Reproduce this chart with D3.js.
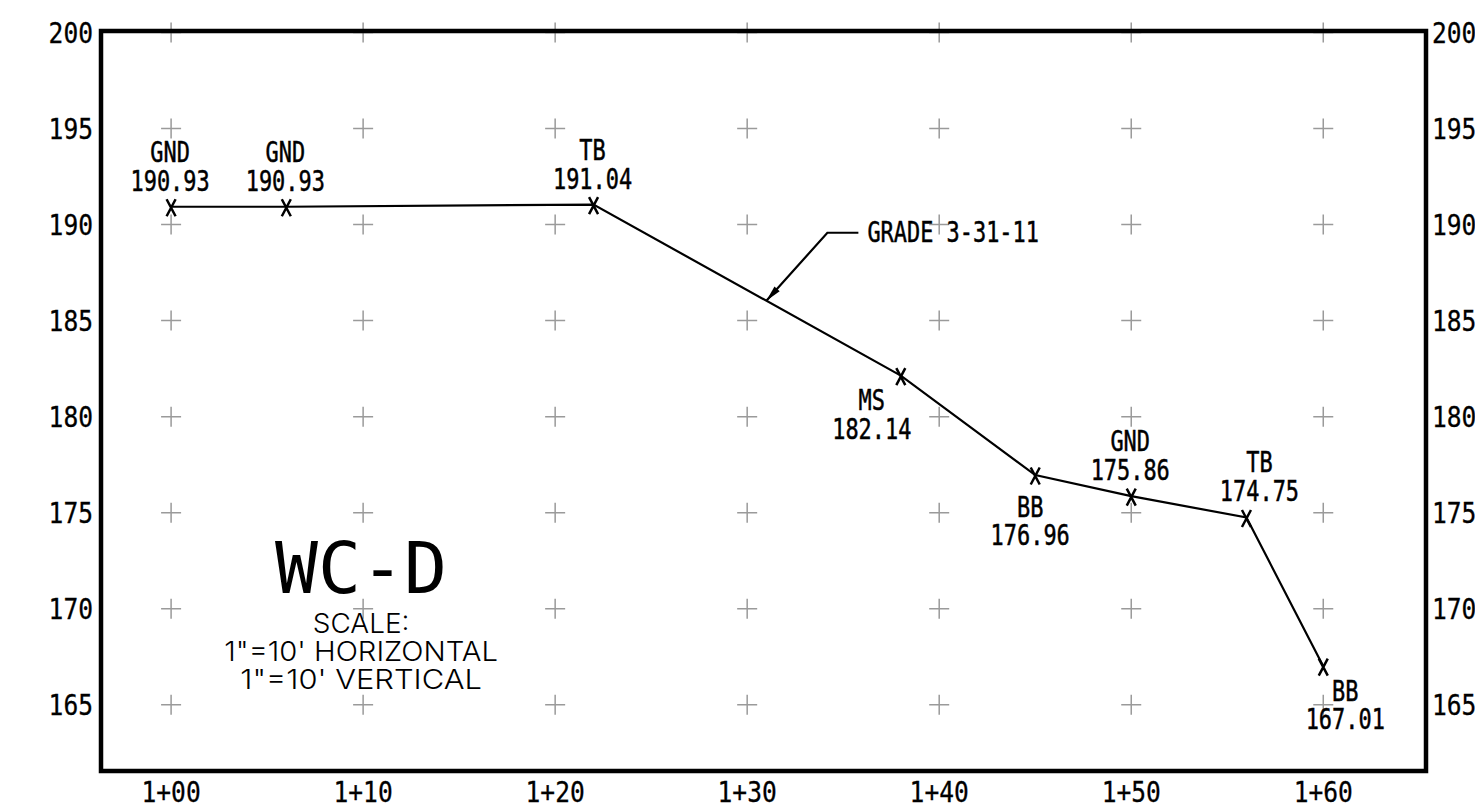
<!DOCTYPE html>
<html>
<head>
<meta charset="utf-8">
<title>WC-D Profile</title>
<script src="https://cdn.jsdelivr.net/npm/d3@7/dist/d3.min.js"></script>
<style>
  html, body { margin: 0; padding: 0; background: #fff; }
  svg { display: block; }
</style>
</head>
<body>
<svg id="profile" width="1475" height="808"></svg>
<script>
// Surveyed profile shots: station offset (ft past 1+00 origin), elevation, point code
const stations   = [100, 106, 122, 138, 145, 150, 156, 160];
const elevations = [190.93, 190.93, 191.04, 182.14, 176.96, 175.86, 174.75, 167.01];
const pointCodes = ["GND", "GND", "TB", "MS", "BB", "GND", "TB", "BB"];
const labelSides = ["above", "above", "above", "below-left", "below", "above", "above-right", "below-right"];

// Grid / axis ticks
const stationTicks      = [100, 110, 120, 130, 140, 150, 160];
const stationTickLabels = ["1+00", "1+10", "1+20", "1+30", "1+40", "1+50", "1+60"];
const elevationTicks    = [165, 170, 175, 180, 185, 190, 195, 200];

// Annotations
const gradeNote     = "GRADE 3-31-11";
const gradeStation  = 131;
const sheetTitle    = "WC-D";
const scaleNotes    = ["SCALE:", "1\"=10' HORIZONTAL", "1\"=10' VERTICAL"];

const svg = d3.select("#profile");

// Equal 1"=10' scaling both ways
const x = d3.scaleLinear().domain([96.35, 165.35]).range([101, 1426]);
const y = d3.scaleLinear().domain([161.55, 200.08]).range([771, 31]);

const MONO = "'DejaVu Sans Mono', 'Liberation Mono', monospace";
const STYLE = {
  label: { family: MONO, size: 29, charW: 13.2, weight: 400, stroke: 0.5 },
  tick:  { family: MONO, size: 27.5, charW: 14.8, weight: 400, stroke: 0.3 },
  title: { family: MONO, size: 71, charW: 43, weight: 400, stroke: 0 },
  note:  { family: "Inter, 'Liberation Sans', sans-serif", size: 27.5, charW: 16.1, weight: 300, stroke: 0 }
};

function addText(g, str, px, py, anchor, st) {
  const t = g.append("text")
    .attr("x", px).attr("y", py)
    .attr("text-anchor", anchor)
    .attr("font-family", st.family)
    .attr("font-size", st.size)
    .attr("font-weight", st.weight)
    .attr("fill", "#000")
    .attr("textLength", str.length * st.charW)
    .attr("lengthAdjust", "spacingAndGlyphs")
    .text(str);
  if (st.stroke) t.attr("stroke", "#000").attr("stroke-width", st.stroke);
  return t;
}

// Grid crosses at every station / elevation intersection
const grid = svg.append("g").attr("stroke", "#9a9a9a").attr("stroke-width", 1.5).attr("fill", "none");
const gridPts = d3.cross(stationTicks, elevationTicks);
grid.selectAll("path").data(gridPts).join("path")
  .attr("transform", d => `translate(${x(d[0])},${y(d[1])})`)
  .attr("d", "M-10,0H10M0,-10V10");

// Frame
const [x0, x1] = x.domain(), [y0, y1] = y.domain();
svg.append("rect")
  .attr("x", x(x0)).attr("y", y(y1))
  .attr("width", x(x1) - x(x0)).attr("height", y(y0) - y(y1))
  .attr("fill", "none").attr("stroke", "#000").attr("stroke-width", 4.5);

// Elevation labels on both sides
const axes = svg.append("g");
elevationTicks.forEach(v => {
  addText(axes, String(v), x(x0) - 8, y(v) + 10, "end", STYLE.tick);
  addText(axes, String(v), x(x1) + 6, y(v) + 10, "start", STYLE.tick);
});
// Station labels
stationTicks.forEach((s, i) => {
  addText(axes, stationTickLabels[i], x(s), 802, "middle", STYLE.tick);
});

// Profile line
const pts = stations.map((s, i) => [s, elevations[i]]);
svg.append("path")
  .datum(pts)
  .attr("fill", "none").attr("stroke", "#000").attr("stroke-width", 2.2)
  .attr("d", d3.line().x(d => x(d[0])).y(d => y(d[1])));

// Shot markers
svg.append("g").attr("stroke", "#000").attr("stroke-width", 2.5).attr("fill", "none")
  .selectAll("path").data(pts).join("path")
  .attr("transform", d => `translate(${x(d[0])},${y(d[1]) + 1})`)
  .attr("d", "M-4.5,-8.5L4.5,8.5M4.5,-8.5L-4.5,8.5");

// Shot labels
const placement = {
  "above":       { dx: -1, code: -45, val: -16 },
  "above-right": { dx: 13, code: -45, val: -16 },
  "below":       { dx: -5, code: 42, val: 70 },
  "below-left":  { dx: -29, code: 34, val: 63 },
  "below-right": { dx: 22, code: 35, val: 63 }
};
const labels = svg.append("g");
pts.forEach((d, i) => {
  const p = placement[labelSides[i]];
  const cx = x(d[0]) + p.dx, cy = y(d[1]);
  addText(labels, pointCodes[i], cx, cy + p.code, "middle", STYLE.label);
  addText(labels, d[1].toFixed(2), cx, cy + p.val, "middle", STYLE.label);
});

// Grade leader with arrow
const k = d3.bisectLeft(stations, gradeStation);
const t = (gradeStation - stations[k - 1]) / (stations[k] - stations[k - 1]);
const tipElev = elevations[k - 1] + t * (elevations[k] - elevations[k - 1]);
const tip = [x(gradeStation), y(tipElev)];
const bend = [tip[0] + 61, tip[1] - 68];
const end = [bend[0] + 31, bend[1]];
const leader = svg.append("g");
leader.append("path")
  .attr("d", d3.line()([tip, bend, end]))
  .attr("fill", "none").attr("stroke", "#000").attr("stroke-width", 2.2);
const ang = Math.atan2(bend[1] - tip[1], bend[0] - tip[0]) * 180 / Math.PI;
leader.append("path")
  .attr("transform", `translate(${tip[0]},${tip[1]}) rotate(${ang})`)
  .attr("d", "M0,0L16,-3.5L16,3.5Z")
  .attr("fill", "#000");
addText(leader, gradeNote, end[0] + 9, end[1] + 9, "start", STYLE.label);

// Sheet title block
const tb = svg.append("g");
const tbx = x(110) - 2, tby = y(170);
addText(tb, sheetTitle, tbx, tby - 16, "middle", STYLE.title);
scaleNotes.forEach((s, i) => {
  addText(tb, s, tbx, tby + 24 + i * 28, "middle", STYLE.note);
});
</script>
</body>
</html>
